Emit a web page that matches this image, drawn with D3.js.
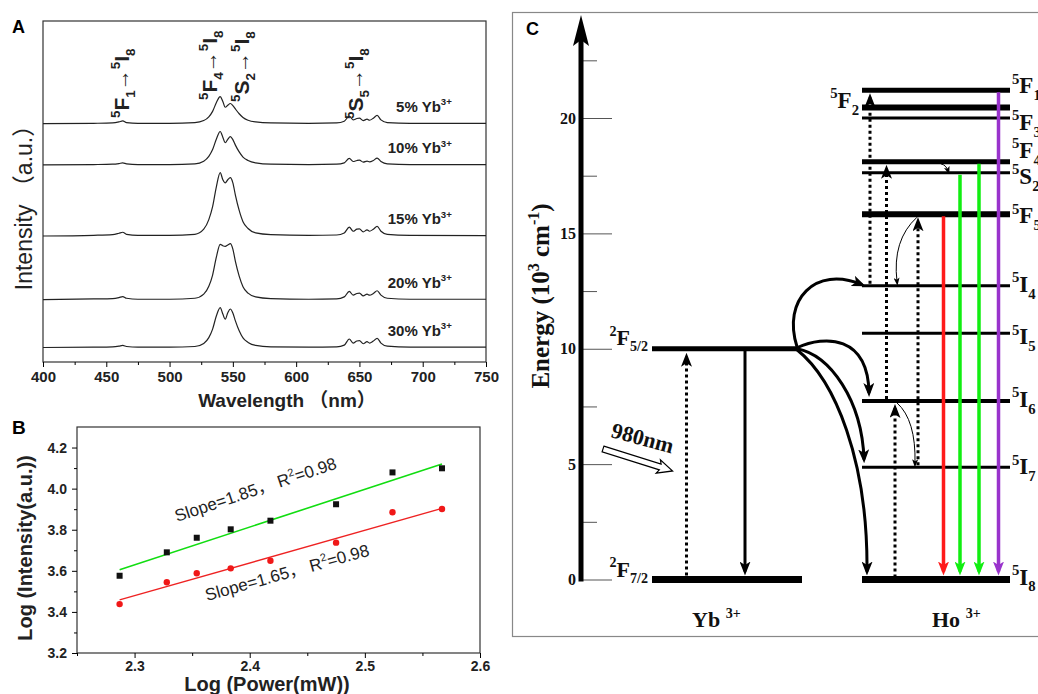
<!DOCTYPE html>
<html>
<head>
<meta charset="utf-8">
<script src="https://cdn.jsdelivr.net/npm/d3@7"></script>
<style>
  body { margin: 0; background: #fff; }
  svg { display: block; }
</style>
</head>
<body>
<div id="fig"></div>
<script>
// ---------- Panel A : emission spectra ----------
const wavelengths = [400, 440, 455, 460, 463, 466, 475, 500, 520, 527, 531, 534, 537, 540, 542, 544, 546, 548, 550, 552,
                     555, 558, 562, 568, 580, 610, 632, 638, 642, 645, 648, 650, 653, 656, 658, 661, 664, 667, 672, 690, 750];
const spec5  = [0, 0.1, 0.2, 0.5, 0.8, 0.3, 0.1, 0.1, 0.3, 0.9, 2.0, 3.6, 6.2, 7.9, 6.6, 4.8, 5.4, 5.9, 5.3, 4.3,
                2.9, 1.8, 1.0, 0.5, 0.2, 0.1, 0.2, 0.7, 2.2, 1.1, 1.5, 1.6, 0.9, 1.3, 1.0, 1.6, 2.4, 1.1, 0.3, 0.1, 0.1];
const spec10 = [0, 0.1, 0.2, 0.4, 0.6, 0.3, 0.1, 0.1, 0.3, 1.1, 2.5, 4.5, 7.6, 9.8, 8.2, 6.5, 7.5, 8.3, 7.4, 5.8,
                3.8, 2.3, 1.3, 0.6, 0.2, 0.1, 0.2, 0.6, 1.9, 1.0, 1.3, 1.4, 0.8, 1.1, 0.9, 1.3, 2.0, 1.0, 0.3, 0.1, 0.1];
const spec15 = [0, 0.2, 0.4, 0.8, 1.1, 0.5, 0.2, 0.2, 0.5, 2.0, 4.8, 8.6, 14.5, 18.6, 16.6, 15.6, 16.5, 17.1, 15.6, 12.0,
                7.5, 4.2, 2.2, 0.9, 0.4, 0.2, 0.3, 0.9, 2.6, 1.4, 2.0, 2.1, 1.2, 1.8, 1.4, 2.0, 2.8, 1.4, 0.5, 0.2, 0.1];
const spec20 = [0, 0.2, 0.3, 0.6, 0.9, 0.4, 0.1, 0.1, 0.4, 1.6, 3.9, 7.2, 12.5, 16.2, 15.8, 15.6, 16.0, 16.4, 14.8, 11.2,
                6.9, 3.8, 1.9, 0.8, 0.3, 0.1, 0.2, 0.8, 2.4, 1.3, 1.8, 1.9, 1.1, 1.6, 1.3, 1.8, 2.6, 1.3, 0.4, 0.1, 0.1];
const spec30 = [0, 0.1, 0.2, 0.4, 0.6, 0.3, 0.1, 0.1, 0.3, 1.2, 2.9, 5.4, 9.3, 11.7, 9.9, 8.3, 10.2, 11.3, 10.1, 7.8,
                4.9, 2.8, 1.5, 0.6, 0.2, 0.1, 0.2, 0.7, 2.5, 1.3, 1.9, 2.0, 1.1, 1.7, 1.3, 1.9, 2.7, 1.3, 0.4, 0.1, 0.1];
const sampleNames = ["5%", "10%", "15%", "20%", "30%"];
const sampleOffsets = [69.9, 57.8, 36.95, 18.3, 4.25];
const wlTicks = [400, 450, 500, 550, 600, 650, 700, 750];
const wlMinor = [425, 475, 525, 575, 625, 675, 725];
const noteWavelengths = [467, 536.5, 562, 652];
const noteLabels = [
  [["5", "^"], ["F"], ["1", "_"], ["→"], ["5", "^"], ["I"], ["8", "_"]],
  [["5", "^"], ["F"], ["4", "_"], ["→"], ["5", "^"], ["I"], ["8", "_"]],
  [["5", "^"], ["S"], ["2", "_"], ["→"], ["5", "^"], ["I"], ["8", "_"]],
  [["5", "^"], ["S"], ["5", "_"], ["→"], ["5", "^"], ["I"], ["8", "_"]]
];

// ---------- Panel B : log-log power dependence ----------
const logPower = [2.287, 2.328, 2.354, 2.3835, 2.418, 2.475, 2.524, 2.567];
const logGreen = [3.576, 3.690, 3.761, 3.802, 3.844, 3.924, 4.079, 4.099];
const logRed   = [3.438, 3.544, 3.588, 3.612, 3.649, 3.737, 3.885, 3.901];
const fitX = [2.287, 2.567];
const fitGreen = [3.605, 4.120];
const fitRed = [3.458, 3.904];
const bxTicks = [2.3, 2.4, 2.5, 2.6];
const bxMinor = [2.25, 2.35, 2.45, 2.55];
const byTicks = [3.2, 3.4, 3.6, 3.8, 4.0, 4.2];
const byMinor = [3.3, 3.5, 3.7, 3.9, 4.1];
const slopeText = ["Slope=1.85，  R", "Slope=1.65，  R"];

// ---------- Panel C : energy levels ----------
const energyTicks = [0, 5, 10, 15, 20];
const energyMinor = [2.5, 7.5, 12.5, 17.5, 22.5];
const ybNames = ["7/2", "5/2"];
const ybEnergy = [0, 10];
const hoNames = ["F1", "F2", "F3", "F4", "S2", "F5", "I4", "I5", "I6", "I7", "I8"];
const hoEnergy = [21.2, 20.45, 20.0, 18.1, 17.63, 15.83, 12.73, 10.67, 7.74, 4.86, 0];
const upFrom = ["I4", "I6", "I7", "I8"];
const upTo   = ["F1", "F4", "F5", "I6"];
const emitFrom = ["F5", "S2", "F4", "F1"];
const transferTo = ["I4", "I6", "I7", "I8"];

// ---------- helpers ----------
const sans = "'Liberation Sans', Arial, 'Noto Sans CJK SC', sans-serif";
const serif = "'Liberation Serif', 'Times New Roman', serif";

function rich(text, parts, size) {
  let shift = 0;
  parts.forEach(p => {
    const s = p[1] === "^" ? -0.42 * size : p[1] === "_" ? 0.3 * size : 0;
    text.append("tspan")
      .attr("dy", s - shift)
      .attr("font-size", p[1] ? size * 0.64 : size)
      .text(p[0]);
    shift = s;
  });
  return text;
}

const svg = d3.select("#fig").append("svg")
  .attr("width", 1038).attr("height", 694)
  .style("background", "#fff");

// ================= Panel A =================
const xA = d3.scaleLinear().domain([400, 750]).range([43, 486]);
const yA = d3.scaleLinear().domain([0, 100]).range([362, 21]);
const gA = svg.append("g").attr("font-family", sans);

gA.append("rect")
  .attr("x", xA(400)).attr("y", yA(100))
  .attr("width", xA(750) - xA(400)).attr("height", yA(0) - yA(100))
  .attr("fill", "none").attr("stroke", "#333").attr("stroke-width", 1.2);

const lineA = d3.line()
  .x((d, i) => xA(wavelengths[i]))
  .y(d => yA(d))
  .curve(d3.curveMonotoneX);

[spec5, spec10, spec15, spec20, spec30].forEach((s, k) => {
  gA.append("path")
    .datum(s.map(v => v + sampleOffsets[k]))
    .attr("d", lineA)
    .attr("fill", "none").attr("stroke", "#222").attr("stroke-width", 1.2);
  const t = gA.append("text")
    .attr("x", xA(723)).attr("y", yA(sampleOffsets[k]) - 12)
    .attr("text-anchor", "end").attr("font-weight", "bold").attr("fill", "#222");
  rich(t, [[sampleNames[k] + " Yb"], ["3+", "^"]], 15);
});

const axA = gA.append("g")
  .attr("transform", `translate(0,${yA(0)})`)
  .call(d3.axisBottom(xA).tickValues(wlTicks).tickSize(5).tickPadding(4));
axA.select(".domain").remove();
axA.selectAll("text").attr("font-size", 15).attr("font-weight", "bold")
  .attr("font-family", sans).attr("fill", "#222");
const axAm = gA.append("g")
  .attr("transform", `translate(0,${yA(0)})`)
  .call(d3.axisBottom(xA).tickValues(wlMinor).tickSize(3).tickFormat(""));
axAm.select(".domain").remove();

gA.append("text").attr("x", 287).attr("y", 407)
  .attr("text-anchor", "middle").attr("font-size", 19).attr("font-weight", "bold")
  .attr("fill", "#222").text("Wavelength （nm）");
gA.append("text").attr("transform", "translate(32,202) rotate(-90)")
  .attr("text-anchor", "middle").attr("font-size", 23).attr("fill", "#222")
  .text("Intensity （a.u.）");
gA.append("text").attr("x", 12).attr("y", 33)
  .attr("font-size", 18).attr("font-weight", "bold").text("A");

const noteBottom = [118, 100, 102, 119];
noteWavelengths.forEach((w, i) => {
  const t = gA.append("text")
    .attr("transform", `translate(${xA(w) + 1},${noteBottom[i]}) rotate(-90)`)
    .attr("font-weight", "bold").attr("fill", "#222");
  rich(t, noteLabels[i], 21);
});

// ================= Panel B =================
const xB = d3.scaleLinear().domain([2.25, 2.6]).range([77, 480]);
const yB = d3.scaleLinear().domain([3.2, 4.3]).range([653, 427]);
const gB = svg.append("g").attr("font-family", sans);

gB.append("rect")
  .attr("x", xB(2.25)).attr("y", yB(4.3))
  .attr("width", xB(2.6) - xB(2.25)).attr("height", yB(3.2) - yB(4.3))
  .attr("fill", "none").attr("stroke", "#333").attr("stroke-width", 1.2);

function styleAxis(g) {
  g.select(".domain").remove();
  g.selectAll("text").attr("font-size", 14).attr("font-weight", "bold")
    .attr("font-family", sans).attr("fill", "#222");
}
gB.append("g").attr("transform", `translate(0,${yB(3.2)})`)
  .call(d3.axisBottom(xB).tickValues(bxTicks).tickSize(5).tickPadding(3).tickFormat(d3.format(".1f")))
  .call(styleAxis);
gB.append("g").attr("transform", `translate(0,${yB(3.2)})`)
  .call(d3.axisBottom(xB).tickValues(bxMinor).tickSize(3).tickFormat(""))
  .call(styleAxis);
gB.append("g").attr("transform", `translate(${xB(2.25)},0)`)
  .call(d3.axisLeft(yB).tickValues(byTicks).tickSize(5).tickPadding(5).tickFormat(d3.format(".1f")))
  .call(styleAxis);
gB.append("g").attr("transform", `translate(${xB(2.25)},0)`)
  .call(d3.axisLeft(yB).tickValues(byMinor).tickSize(3).tickFormat(""))
  .call(styleAxis);

const fitLine = d3.line().x((d, i) => xB(fitX[i])).y(d => yB(d));
gB.append("path").datum(fitGreen).attr("d", fitLine)
  .attr("stroke", "#11dd11").attr("stroke-width", 1.6).attr("fill", "none");
gB.append("path").datum(fitRed).attr("d", fitLine)
  .attr("stroke", "#ee2222").attr("stroke-width", 1.3).attr("fill", "none");

gB.selectAll("rect.sq").data(logGreen).join("rect").attr("class", "sq")
  .attr("x", (d, i) => xB(logPower[i]) - 3).attr("y", d => yB(d) - 3)
  .attr("width", 6).attr("height", 6).attr("fill", "#111");
gB.selectAll("circle.dot").data(logRed).join("circle").attr("class", "dot")
  .attr("cx", (d, i) => xB(logPower[i])).attr("cy", d => yB(d))
  .attr("r", 3.2).attr("fill", "#f01818");

const tG = gB.append("text").attr("transform", "translate(177,522) rotate(-18.5)")
  .attr("fill", "#222");
rich(tG, [[slopeText[0]], ["2", "^"], ["=0.98"]], 17);
const tR = gB.append("text").attr("transform", "translate(207,601) rotate(-15.6)")
  .attr("fill", "#222");
rich(tR, [[slopeText[1]], ["2", "^"], ["=0.98"]], 17);

gB.append("text").attr("x", 267).attr("y", 691)
  .attr("text-anchor", "middle").attr("font-size", 20).attr("font-weight", "bold")
  .attr("fill", "#222").text("Log (Power(mW))");
gB.append("text").attr("transform", "translate(32,548) rotate(-90)")
  .attr("text-anchor", "middle").attr("font-size", 20).attr("font-weight", "bold")
  .attr("fill", "#222").text("Log (Intensity(a.u.))");
gB.append("text").attr("x", 12).attr("y", 434)
  .attr("font-size", 19).attr("font-weight", "bold").text("B");

// ================= Panel C =================
const yC = d3.scaleLinear().domain([0, 20]).range([579.5, 118]);
const gC = svg.append("g").attr("font-family", serif).attr("font-weight", "bold");
const axX = 581, ybL = 652, ybR = 800, hoL = 862, hoR = 1010;
const hoY = name => yC(hoEnergy[hoNames.indexOf(name)]);

gC.append("rect").attr("x", 512.5).attr("y", 12.5)
  .attr("width", 600).attr("height", 624)
  .attr("fill", "none").attr("stroke", "#888").attr("stroke-width", 1.2);

const defs = svg.append("defs");
function marker(id, color, w, h) {
  defs.append("marker").attr("id", id)
    .attr("viewBox", `0 0 ${w} ${h}`).attr("refX", w - 4).attr("refY", h / 2)
    .attr("markerWidth", w).attr("markerHeight", h)
    .attr("markerUnits", "userSpaceOnUse").attr("orient", "auto")
    .append("path").attr("d", `M0,0 L${w},${h / 2} L0,${h} L${w * 0.25},${h / 2} Z`)
    .attr("fill", color);
}
marker("ah-black", "#000", 14, 11);
marker("ah-small", "#000", 8, 6);
marker("ah-red", "#ff1a1a", 14, 11);
marker("ah-green", "#11ee11", 14, 11);
marker("ah-purple", "#9933cc", 14, 11);

// energy axis
const axC = gC.append("g").attr("transform", `translate(${axX},0)`)
  .call(d3.axisLeft(yC).tickValues(energyTicks).tickSizeInner(-31).tickSizeOuter(0).tickPadding(5));
axC.select(".domain").remove();
axC.selectAll("line").attr("stroke", "#555").attr("stroke-width", 1);
axC.selectAll("text").attr("font-size", 16).attr("font-family", serif)
  .attr("font-weight", "bold").attr("fill", "#111");
const axCm = gC.append("g").attr("transform", `translate(${axX},0)`)
  .call(d3.axisLeft(yC).tickValues(energyMinor).tickSizeInner(-16).tickSizeOuter(0).tickFormat(""));
axCm.select(".domain").remove();
axCm.selectAll("line").attr("stroke", "#555").attr("stroke-width", 1);
gC.append("line").attr("x1", axX).attr("x2", axX)
  .attr("y1", yC(0) + 2).attr("y2", yC(23.6))
  .attr("stroke", "#000").attr("stroke-width", 5);
gC.append("path")
  .attr("d", `M${axX},15 L${axX + 8},46 L${axX},40 L${axX - 8},46 Z`)
  .attr("fill", "#000");

gC.append("text").attr("transform", "translate(549,296) rotate(-90)")
  .attr("text-anchor", "middle").attr("fill", "#111")
  .call(t => rich(t, [["Energy (10"], ["3", "^"], [" cm"], ["-1", "^"], [")"]], 25));
gC.append("text").attr("x", 526).attr("y", 35)
  .attr("font-family", sans).attr("font-size", 18).text("C");

// Yb levels
ybEnergy.forEach((e, i) => {
  gC.append("line").attr("x1", ybL).attr("x2", ybR + (i ? -3 : 2))
    .attr("y1", yC(e)).attr("y2", yC(e))
    .attr("stroke", "#000").attr("stroke-width", i ? 5 : 7);
  gC.append("text").attr("x", 648).attr("y", yC(e) - (i ? 4 : 3))
    .attr("text-anchor", "end").attr("fill", "#111")
    .call(t => rich(t, [["2", "^"], ["F"], [ybNames[i], "_"]], 22));
});
gC.append("line").attr("x1", 686.5).attr("x2", 686.5)
  .attr("y1", yC(0) - 4).attr("y2", yC(10) + 8)
  .attr("stroke", "#000").attr("stroke-width", 3).attr("stroke-dasharray", "3,3")
  .attr("marker-end", "url(#ah-black)");
gC.append("line").attr("x1", 745).attr("x2", 745)
  .attr("y1", yC(10)).attr("y2", yC(0) - 8)
  .attr("stroke", "#000").attr("stroke-width", 3)
  .attr("marker-end", "url(#ah-black)");

// 980nm pump arrow
const pump = gC.append("g").attr("transform", "translate(603,449) rotate(17.5)");
pump.append("path")
  .attr("d", "M0,-3 L60,-3 L58,-7 L73,0 L58,7 L60,3 L0,3 Z")
  .attr("fill", "#fff").attr("stroke", "#000").attr("stroke-width", 1.2);
gC.append("text").attr("transform", "translate(610,437) rotate(15)")
  .attr("font-size", 22).attr("fill", "#111").text("980nm");

gC.append("text").attr("x", 692).attr("y", 627).attr("fill", "#111")
  .call(t => rich(t, [["Yb "], ["3+", "^"]], 22));
gC.append("text").attr("x", 932).attr("y", 627).attr("fill", "#111")
  .call(t => rich(t, [["Ho "], ["3+", "^"]], 22));

// Ho levels
const hoWidth = [5, 6, 3, 5, 3, 6, 3, 3, 4, 3, 7];
const hoLabelDy = [3, 0, 12, -4, 11, 9, 6, 11, 6, 7, 5];
hoNames.forEach((n, i) => {
  const y = yC(hoEnergy[i]);
  gC.append("line").attr("x1", hoL).attr("x2", hoR)
    .attr("y1", y).attr("y2", y)
    .attr("stroke", "#000").attr("stroke-width", hoWidth[i]);
  const left = n === "F2";
  gC.append("text")
    .attr("x", left ? hoL - 3 : hoR + 2).attr("y", y + hoLabelDy[i])
    .attr("text-anchor", left ? "end" : "start").attr("fill", "#111")
    .call(t => rich(t, [["5", "^"], [n[0]], [n.slice(1), "_"]], 23));
});

// upconversion (dotted) arrows
const upX = [870, 886.5, 918, 895];
upFrom.forEach((f, i) => {
  gC.append("line").attr("x1", upX[i]).attr("x2", upX[i])
    .attr("y1", hoY(f) - 2).attr("y2", hoY(upTo[i]) + 7)
    .attr("stroke", "#000").attr("stroke-width", 3).attr("stroke-dasharray", "3,3")
    .attr("marker-end", "url(#ah-black)");
});

// emissions
const emitX = [943.5, 960, 979, 998.5];
const emitColor = ["#ff1a1a", "#11ee11", "#11ee11", "#9933cc"];
const emitMarker = ["ah-red", "ah-green", "ah-green", "ah-purple"];
emitFrom.forEach((f, i) => {
  gC.append("line").attr("x1", emitX[i]).attr("x2", emitX[i])
    .attr("y1", hoY(f) + 2).attr("y2", yC(0) - 8)
    .attr("stroke", emitColor[i]).attr("stroke-width", 3.5)
    .attr("marker-end", `url(#${emitMarker[i]})`);
});

// energy transfer curves Yb -> Ho
const ctrl = [
  [[782, 300], [815, 265]],
  [[825, 335], [868, 335]],
  [[830, 355], [862, 400]],
  [[835, 380], [868, 460]]
];
const endX = [862, 869, 864, 867];
transferTo.forEach((t, i) => {
  const y0 = yC(10) - 2 + i;
  const y1 = t === "I4" ? hoY(t) - 1 : hoY(t) - 8;
  const p = d3.path();
  p.moveTo(797, y0);
  p.bezierCurveTo(ctrl[i][0][0], ctrl[i][0][1], ctrl[i][1][0], ctrl[i][1][1], endX[i], y1);
  gC.append("path").attr("d", p.toString())
    .attr("fill", "none").attr("stroke", "#000").attr("stroke-width", 3)
    .attr("marker-end", "url(#ah-black)");
});

// non-radiative relaxation (thin curves)
[
  [[917, hoY("F5") + 3], [892, 240], [897, hoY("I4") - 4]],
  [[941, hoY("F4") + 2], [946, 165], [948, hoY("S2") - 2]],
  [[897, hoY("I6") + 2], [916, 420], [915, hoY("I7") - 4]]
].forEach(c => {
  const p = d3.path();
  p.moveTo(c[0][0], c[0][1]);
  p.quadraticCurveTo(c[1][0], c[1][1], c[2][0], c[2][1]);
  gC.append("path").attr("d", p.toString())
    .attr("fill", "none").attr("stroke", "#000").attr("stroke-width", 1)
    .attr("marker-end", "url(#ah-small)");
});
</script>
</body>
</html>
